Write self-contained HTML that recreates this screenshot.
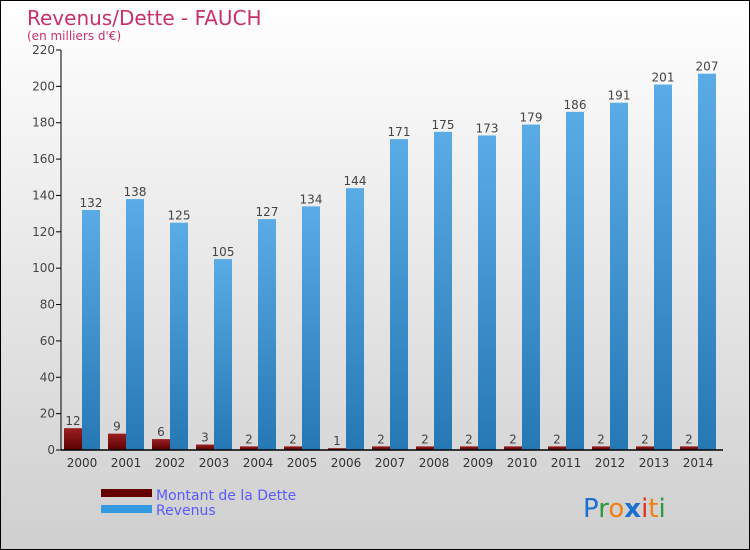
<!DOCTYPE html>
<html><head><meta charset="utf-8"><style>
html,body{margin:0;padding:0}
body{width:750px;height:550px;overflow:hidden;font-family:"DejaVu Sans","Liberation Sans",sans-serif}
#wrap{position:relative;width:748px;height:548px;border:1px solid #000;background:linear-gradient(#ffffff,#cfcfcf)}
</style></head><body>
<div id="wrap">
<svg id="chart" width="748" height="548" style="position:absolute;left:0;top:0">
<defs>
<linearGradient id="gRev" x1="0" y1="0" x2="0" y2="1"><stop offset="0" stop-color="#5aabe6"/><stop offset="1" stop-color="#2678b4"/></linearGradient>
<linearGradient id="gDebt" x1="0" y1="0" x2="0" y2="1"><stop offset="0" stop-color="#9a2020"/><stop offset="1" stop-color="#5a0000"/></linearGradient>
</defs>
<text x="26" y="24" font-size="20" fill="#c8306a">Revenus/Dette - FAUCH</text>
<text x="26" y="39" font-size="12" fill="#c8306a">(en milliers d'€)</text>
<g id="plot"></g>
<g>
<rect x="100" y="488" width="51" height="8" fill="#660000"/>
<text x="155" y="499" font-size="14" fill="#5a5aff">Montant de la Dette</text>
<rect x="100" y="504" width="51" height="8" fill="#3399e0"/>
<text x="155" y="514" font-size="14" fill="#5a5aff">Revenus</text>
</g>
<g font-size="26" font-family="DejaVu Sans, sans-serif">
<text x="582" y="516"><tspan fill="#1a6fd0">P</tspan><tspan fill="#2a9a3a">r</tspan><tspan fill="#f08010">o</tspan><tspan fill="#1a6fd0" font-weight="bold">x</tspan><tspan fill="#e03020">i</tspan><tspan fill="#f08010">t</tspan><tspan fill="#2a9a3a">i</tspan></text>
</g>
</svg>
</div>
<script>
const years=["2000","2001","2002","2003","2004","2005","2006","2007","2008","2009","2010","2011","2012","2013","2014"];
const revenus=[132,138,125,105,127,134,144,171,175,173,179,186,191,201,207];
const dette=[12,9,6,3,2,2,1,2,2,2,2,2,2,2,2];
const yTicks=[0,20,40,60,80,100,120,140,160,180,200,220];
const NS="http://www.w3.org/2000/svg";
const g=document.getElementById('plot');
const y0=449,yTop=49,vmax=220;
const y=v=>y0-(v/vmax)*(y0-yTop);
const xc=i=>81+i*44;
function el(t,a,txt){const e=document.createElementNS(NS,t);for(const k in a)e.setAttribute(k,a[k]);if(txt!==undefined)e.textContent=txt;g.appendChild(e);return e;}
yTicks.forEach(t=>{
 const l=el('line',{x1:55,x2:60,y1:y(t),y2:y(t),stroke:'#000'});
 
 
 const tx=el('text',{x:54,y:y(t)+4,'font-size':12,fill:'#444','text-anchor':'end'},t);
 
 
});
years.forEach((yr,i)=>{
 const c=xc(i);
 const d=el('rect',{x:c-18,y:y(dette[i]),width:18,height:y0-y(dette[i]),fill:'url(#gDebt)'});
 
 
 const r=el('rect',{x:c,y:y(revenus[i]),width:18,height:y0-y(revenus[i]),fill:'url(#gRev)'});
 
 
 const dl=el('text',{x:c-9,y:y(dette[i])-3,'font-size':12,fill:'#444','text-anchor':'middle'},dette[i]);
 
 
 const rl=el('text',{x:c+9,y:y(revenus[i])-3,'font-size':12,fill:'#444','text-anchor':'middle'},revenus[i]);
 
 
 const xl=el('text',{x:c,y:466,'font-size':12,fill:'#333','text-anchor':'middle'},yr);
 
 
});
const ya=el('line',{x1:60,x2:60,y1:yTop,y2:y0,stroke:'#000'});


const xa=el('line',{x1:60,x2:722,y1:y0,y2:y0,stroke:'#000','stroke-width':1.5});


</script>
</body></html>
